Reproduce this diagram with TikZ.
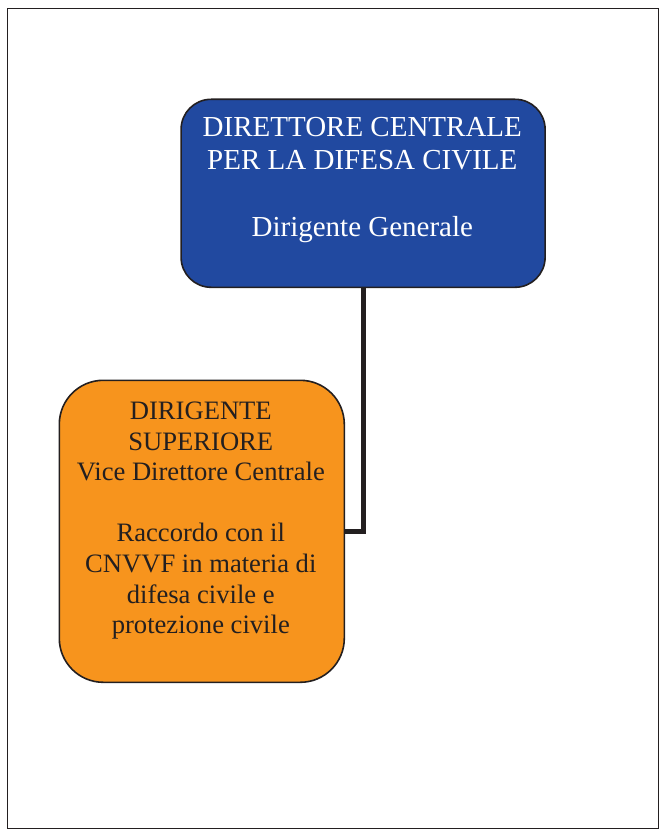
\documentclass[tikz,border=0pt]{standalone}
\usepackage{fontspec}
\setmainfont{Liberation Serif}
\definecolor{boxblue}{RGB}{33,73,160}
\definecolor{boxorange}{RGB}{247,148,29}
\definecolor{inkdark}{RGB}{35,31,32}
\tikzset{
  box/.style={draw=inkdark, line width=1.6pt, inner sep=0pt, anchor=north west},
  bluetext/.style={inner sep=0pt, anchor=north, align=center, text=white,
    font=\fontsize{29}{33.5}\selectfont},
  orangetext/.style={inner sep=0pt, anchor=north, align=center, text=inkdark,
    font=\fontsize{26.6}{30.6}\selectfont},
  link/.style={draw=inkdark, line width=5pt, line join=miter}
}
\begin{document}
\begin{tikzpicture}[x=1pt,y=-1pt]
\useasboundingbox (0,0) rectangle (661,832);
\draw[inkdark, line width=1.6pt] (7.5,8.5) rectangle (658.5,828.5);
\node[box, fill=boxblue, rounded corners=30pt, minimum width=364pt, minimum height=188pt] (dir) at (180.3,98.5) {};
\node[box, fill=boxorange, rounded corners=44pt, minimum width=285pt, minimum height=302pt] (vice) at (58.5,379.5) {};
\draw[link] (dir.south) |- (vice.east);
\node[bluetext] (dirtext) at (362.3,116.7) {DIRETTORE CENTRALE\\PER LA DIFESA CIVILE\\[33.5pt]Dirigente Generale};
\node[orangetext] (vicetext) at (200.8,401.7) {DIRIGENTE\\SUPERIORE\\Vice Direttore Centrale\\[30.6pt]Raccordo con il\\CNVVF in materia di\\difesa civile e\\protezione civile};
\end{tikzpicture}
\end{document}
